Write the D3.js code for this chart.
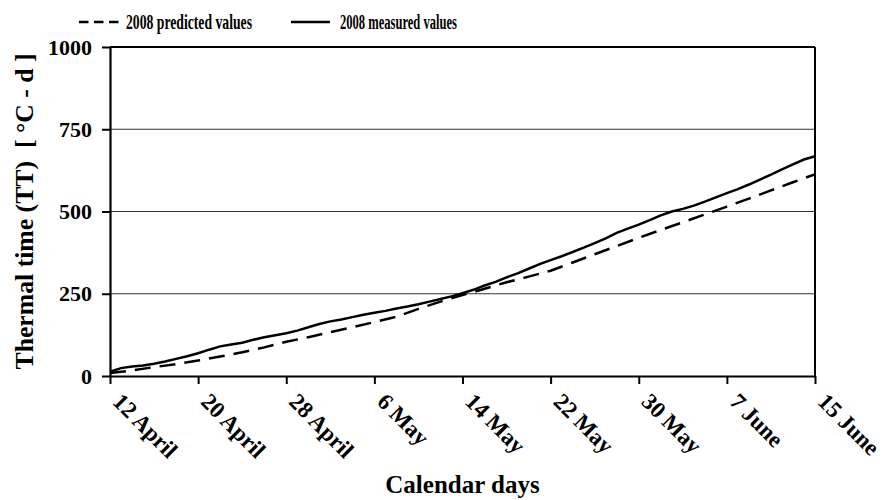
<!DOCTYPE html>
<html>
<head>
<meta charset="utf-8">
<script src="https://cdn.jsdelivr.net/npm/d3@7/dist/d3.min.js"></script>
<style>
  html, body { margin: 0; padding: 0; background: #fff; }
  svg { display: block; }
  text { font-family: "Liberation Serif", "Times New Roman", serif; font-weight: bold; fill: #000; white-space: pre; }
</style>
</head>
<body>
<svg id="chart" width="885" height="500"></svg>
<script>
// ---- data ----
const tickDays = [0, 8, 16, 24, 32, 40, 48, 56, 64];
const tickLabels = ["12 April", "20 April", "28 April", "6 May", "14 May", "22 May", "30 May", "7 June", "15 June"];
const yTicks = [0, 250, 500, 750, 1000];

const measuredDays = [];
for (let i = 0; i <= 64; i++) measuredDays.push(i);
const measuredValues = [13, 24, 29, 32, 37, 44, 52, 60, 69, 80, 90, 96, 101, 110, 118, 124, 130, 138, 148, 158,
  166, 172, 179, 186, 192, 198, 205, 211, 218, 226, 234, 242, 252, 262, 275, 286, 300, 312, 326, 340,
  352, 364, 377, 390, 404, 418, 435, 448, 460, 474, 488, 500, 508, 518, 530, 543, 556, 568, 582, 597,
  612, 628, 643, 658, 668];

const predictedDays = [0, 2, 4, 6, 8, 10, 12, 14, 16, 18, 20, 22, 24, 26, 28, 30, 32, 34, 36, 38, 40, 42, 44, 46, 48, 50, 52, 54, 56, 58, 60, 62, 64];
const predictedValues = [9, 17, 27, 36, 47, 59, 72, 87, 104, 118, 133, 148, 164, 180, 204, 226, 246, 265, 285, 302,
  320, 345, 370, 395, 420, 444, 467, 491, 515, 539, 564, 589, 613];

const seriesNames = ["2008 predicted values", "2008 measured values"];

// ---- layout ----
const svg = d3.select("#chart");
const L = 110, R = 815, T = 47, B = 376;
const x = d3.scaleLinear().domain([0, 64]).range([L, R]);
const y = d3.scaleLinear().domain([0, 1000]).range([B, T]);

// gridlines
svg.append("g").selectAll("line").data([250, 500, 750]).join("line")
  .attr("x1", L).attr("x2", R).attr("y1", d => y(d)).attr("y2", d => y(d))
  .attr("stroke", "#333").attr("stroke-width", 1);

// frame top & right
svg.append("line").attr("x1", L).attr("x2", R).attr("y1", y(1000)).attr("y2", y(1000))
  .attr("stroke", "#000").attr("stroke-width", 2);
svg.append("line").attr("x1", R).attr("x2", R).attr("y1", T).attr("y2", B)
  .attr("stroke", "#000").attr("stroke-width", 2);

// y axis
const yAxis = svg.append("g").attr("transform", `translate(${L},0)`)
  .call(d3.axisLeft(y).tickValues(yTicks).tickSize(8).tickSizeOuter(0).tickPadding(10).tickFormat(d3.format("d")));
yAxis.select(".domain").attr("stroke", "#000").attr("stroke-width", 2.2);
yAxis.selectAll(".tick line").attr("stroke", "#000").attr("stroke-width", 2);
yAxis.selectAll(".tick text").attr("font-size", 22).attr("font-family", "Liberation Serif").attr("font-weight", "bold").attr("fill", "#000");

// x axis
const xAxis = svg.append("g").attr("transform", `translate(0,${B})`)
  .call(d3.axisBottom(x).tickValues(tickDays).tickSize(8).tickSizeOuter(0).tickFormat((d, i) => tickLabels[i]));
xAxis.select(".domain").attr("stroke", "#000").attr("stroke-width", 2.2);
xAxis.selectAll(".tick line").attr("stroke", "#000").attr("stroke-width", 2);
xAxis.selectAll(".tick text")
  .attr("font-size", 23).attr("font-family", "Liberation Serif").attr("font-weight", "bold").attr("fill", "#000")
  .attr("text-anchor", "start").attr("dy", null).attr("y", null)
  .attr("transform", "translate(1,27) rotate(45)");

// lines
const lineGen = d3.line().x(d => x(d[0])).y(d => y(d[1]));
const predPts = predictedDays.map((d, i) => [d, predictedValues[i]]);
const measPts = measuredDays.map((d, i) => [d, measuredValues[i]]);

svg.append("path").datum(predPts).attr("d", lineGen)
  .attr("fill", "none").attr("stroke", "#000").attr("stroke-width", 2.5)
  .attr("stroke-dasharray", "16,9");
svg.append("path").datum(measPts).attr("d", lineGen)
  .attr("fill", "none").attr("stroke", "#000").attr("stroke-width", 2.5);

// legend
svg.append("line").attr("x1", 79).attr("x2", 119).attr("y1", 22).attr("y2", 22)
  .attr("stroke", "#000").attr("stroke-width", 2.5).attr("stroke-dasharray", "9.5,5.5");
svg.append("text").attr("x", 126).attr("y", 29).attr("font-size", 20)
  .attr("textLength", 126).attr("lengthAdjust", "spacingAndGlyphs").text(seriesNames[0]);
svg.append("line").attr("x1", 291).attr("x2", 330).attr("y1", 22).attr("y2", 22)
  .attr("stroke", "#000").attr("stroke-width", 2.5);
svg.append("text").attr("x", 340).attr("y", 29).attr("font-size", 20)
  .attr("textLength", 117).attr("lengthAdjust", "spacingAndGlyphs").text(seriesNames[1]);

// axis titles
svg.append("text").attr("x", (L + R) / 2).attr("y", 493).attr("text-anchor", "middle")
  .attr("font-size", 25).text("Calendar days");
svg.append("text").attr("transform", `translate(33,${(T + B) / 2}) rotate(-90)`)
  .attr("text-anchor", "middle").attr("font-size", 25)
  .attr("textLength", 316).attr("lengthAdjust", "spacingAndGlyphs")
  .text("Thermal time (TT)  [ °C - d ]");
</script>
</body>
</html>
